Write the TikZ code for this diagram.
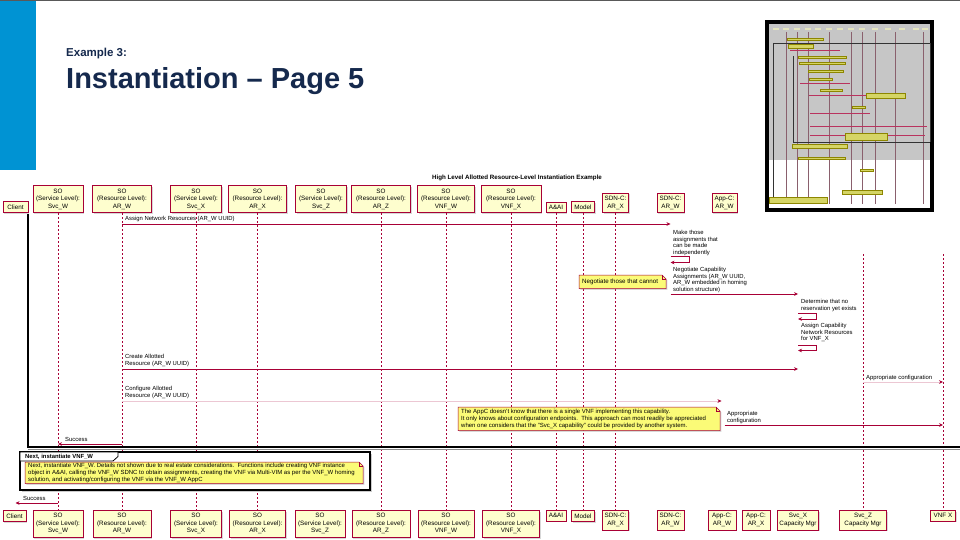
\documentclass[tikz,border=0pt]{standalone}
\usepackage{fontspec}
\setmainfont{Liberation Sans}
\usetikzlibrary{arrows.meta,shadows}
\definecolor{pred}{HTML}{A80036}
\definecolor{pfill}{HTML}{FEFECE}
\definecolor{nfill}{HTML}{FBFB77}
\definecolor{navy}{HTML}{15294D}
\definecolor{barblue}{HTML}{0093D3}
\newcommand{\ptop}[4]{\node[pbox,minimum width=#3pt,anchor=south] (t#1) at (#2,213) {#4};}
\newcommand{\pbot}[4]{\node[pbox,minimum width=#3pt,anchor=north] (b#1) at (#2,510) {#4};}
\newcommand{\pnote}[4]{%
  \path[draw=pred,fill=nfill,line width=0.5pt,nshadow] (#1,#2) -- (#3-4,#2) -- (#3,#2+4) -- (#3,#4) -- (#1,#4) -- cycle;
  \draw[pred,line width=0.5pt] (#3-4,#2) -- (#3-4,#2+4) -- (#3,#2+4);}
\begin{document}
\begin{tikzpicture}[x=1pt,y=-1pt,
  pbox/.style={draw=pred,fill=pfill,line width=0.6pt,align=center,inner xsep=1pt,inner ysep=3.2pt,
    font=\fontsize{6.3}{7.5}\selectfont,
    drop shadow={shadow xshift=1.3pt,shadow yshift=-1.3pt,opacity=0.3}},
  nshadow/.style={drop shadow={shadow xshift=1.3pt,shadow yshift=-1.3pt,opacity=0.3}},
  life/.style={draw=pred,line width=0.5pt,dash pattern=on 2pt off 2pt},
  msg/.style={draw=pred,line width=0.6pt,-{Stealth[length=4pt,width=3.6pt]}},
  faint/.style={draw=pred!22,line width=0.5pt,-{Stealth[length=4pt,width=3.6pt,color=pred]}},
  mtext/.style={inner sep=0pt,align=left,font=\fontsize{5.9}{6.5}\selectfont},
  ntext/.style={inner sep=0pt,align=left,font=\fontsize{6}{7}\selectfont},
]
\useasboundingbox (0,0) rectangle (960,540);
\fill[white] (0,0) rectangle (960,540);
% slide decoration
\draw[gray!70!black,line width=1.2pt] (0,0.6) -- (960,0.6);
\fill[barblue] (0,1.2) rectangle (36,170);
\node[anchor=base west,inner sep=0,font=\fontsize{11.5}{12}\selectfont\bfseries,text=navy] (ex) at (66,57) {Example 3:};
\node[anchor=base west,inner sep=0,font=\fontsize{29}{30}\selectfont\bfseries,text=navy] (ttl) at (66,89) {Instantiation – Page 5};

% thumbnail
\fill[black] (765,20) rectangle (934,212);
\fill[gray!45] (769,24) rectangle (930,160);
\fill[white] (769,160) rectangle (930,208);
\foreach \xx in {776,786,797,808,818,829,840,851,862,875,888,902,916,925}
  \fill[pfill!80!gray] (\xx-3,28) rectangle (\xx+3,30.5);
\foreach \xx in {786,797,808,829,851,862,875,895,923}
  \draw[gray!75!pred,line width=0.25pt] (\xx,32) -- (\xx,204);
\draw[black!80,line width=0.35pt] (773,43) -- (930,43) (773,43) -- (773,200) (793,56) -- (793,142) -- (930,142) (930,43) -- (930,142);
\draw[pred!80,line width=0.35pt] (809,95) -- (867,95) (810,126) -- (927,126) (810,135) -- (925,135) (790,50) -- (840,50) (800,83) -- (850,83) (810,113) -- (870,113);
\foreach \a/\b/\c/\d in {787/38/823/40.5,788/44/813/48,798/56/846/58.5,799/62/845/64.5,808/70/843/72.5,809/78/832/80.5,820/89/842/91.5,866/93/905/98,852/106/865/108.5,845/133/887/140,792/144/847/148,798/157/845/159.5,860/169/873/171.5,842/190/882/194,769/197/827/203}
  \filldraw[fill=nfill!85!black,draw=olive,line width=0.2pt] (\a,\b) rectangle (\c,\d);

% diagram title
\node[font=\fontsize{6.2}{7}\selectfont\bfseries,inner sep=0,anchor=base] (dtitle) at (517,179.5) {High Level Allotted Resource-Level Instantiation Example};

% participants (top)
\ptop{client}{15.5}{25}{Client}
\ptop{svcw}{58}{50}{SO\\(Service Level):\\Svc\_W}
\ptop{arw}{122}{59}{SO\\(Resource Level):\\AR\_W}
\ptop{svcx}{196}{51}{SO\\(Service Level):\\Svc\_X}
\ptop{arx}{257.5}{58}{SO\\(Resource Level):\\AR\_X}
\ptop{svcz}{321}{51}{SO\\(Service Level):\\Svc\_Z}
\ptop{arz}{381}{59}{SO\\(Resource Level):\\AR\_Z}
\ptop{vnfw}{446}{57}{SO\\(Resource Level):\\VNF\_W}
\ptop{vnfx}{511}{60}{SO\\(Resource Level):\\VNF\_X}
\ptop{aai}{556}{20}{A\&AI}
\ptop{model}{583}{23}{Model}
\ptop{sdnx}{615.5}{26}{SDN-C:\\AR\_X}
\ptop{sdnw}{670.5}{27}{SDN-C:\\AR\_W}
\ptop{appw}{724.5}{25}{App-C:\\AR\_W}

% participants (bottom)
\pbot{client}{14.5}{23}{Client}
\pbot{svcw}{58}{50}{SO\\(Service Level):\\Svc\_W}
\pbot{arw}{122}{58}{SO\\(Resource Level):\\AR\_W}
\pbot{svcx}{196}{51}{SO\\(Service Level):\\Svc\_X}
\pbot{arx}{257.5}{56}{SO\\(Resource Level):\\AR\_X}
\pbot{svcz}{320}{50}{SO\\(Service Level):\\Svc\_Z}
\pbot{arz}{381}{58}{SO\\(Resource Level):\\AR\_Z}
\pbot{vnfw}{446}{56}{SO\\(Resource Level):\\VNF\_W}
\pbot{vnfx}{511}{57}{SO\\(Resource Level):\\VNF\_X}
\pbot{aai}{556}{20}{A\&AI}
\pbot{model}{583}{23}{Model}
\pbot{sdnx}{615.5}{26}{SDN-C:\\AR\_X}
\pbot{sdnw}{670.5}{27}{SDN-C:\\AR\_W}
\pbot{appw}{722}{28}{App-C:\\AR\_W}
\pbot{appx}{756}{28}{App-C:\\AR\_X}
\pbot{capx}{798}{41}{Svc\_X\\Capacity Mgr}
\pbot{capz}{863}{47}{Svc\_Z\\Capacity Mgr}
\pbot{vnfxx}{943}{25}{VNF X}

% lifelines
\foreach \p in {svcw,arw,svcx,arx,arz,vnfw,vnfx,aai,model,sdnx}
  \draw[life] (t\p.south) -- (b\p.north);
\draw[life] (bcapz.north |- 0,254) -- (bcapz.north);
\draw[life] (bvnfxx.north |- 0,254) -- (bvnfxx.north);

% enclosing group (continued from previous page)
\draw[black!45,line width=0.8pt] (28,449.2) -- (960,449.2);
\draw[black,line width=1.1pt] (28,214) -- (28,447) -- (960,447);

% messages
\node[mtext,anchor=south west] (m1) at (125,222) {Assign Network Resources (AR\_W UUID)};
\draw[msg] (tarw.south |- 0,224) -- (tsdnw.south |- 0,224);

\node[mtext,anchor=north west] (m2) at (673,230.5) {Make those\\assignments that\\can be made\\independently};
\draw[msg] (tsdnw.south |- 0,256) -- (689,256) -- (689,262.5) -- (tsdnw.south |- 0,262.5);

\node[mtext,anchor=north west] (m3) at (673,267.5) {Negotiate Capability\\Assignments (AR\_W UUID,\\AR\_W embedded in homing\\solution structure)};
\draw[msg] (tsdnw.south |- 0,294) -- (bcapx.north |- 0,294);

\pnote{579}{275}{666}{288.5}
\node[ntext,anchor=west,font=\fontsize{6.2}{7}\selectfont] (n1) at (582,282) {Negotiate those that cannot};

\node[mtext,anchor=north west] (m4) at (801,299.5) {Determine that no\\reservation yet exists};
\draw[msg] (bcapx.north |- 0,313) -- (816,313) -- (816,319) -- (bcapx.north |- 0,319);

\node[mtext,anchor=north west] (m5) at (801,323.5) {Assign Capability\\Network Resources\\for VNF\_X};
\draw[msg] (bcapx.north |- 0,345) -- (816,345) -- (816,350.5) -- (bcapx.north |- 0,350.5);

\node[mtext,anchor=north west] (m6) at (125,354.5) {Create Allotted\\Resource (AR\_W UUID)};
\draw[msg] (tarw.south |- 0,369) -- (bcapx.north |- 0,369);

\node[mtext,anchor=south west] (m7) at (866,380.5) {Appropriate configuration};
\draw[faint] (bcapz.north |- 0,382) -- (bvnfxx.north |- 0,382);

\node[mtext,anchor=north west] (m8) at (125,386.5) {Configure Allotted\\Resource (AR\_W UUID)};
\draw[faint,shorten >=3pt] (tarw.south |- 0,401) -- (tappw.south |- 0,401);

\pnote{458}{407}{720}{430.5}
\node[ntext,anchor=north west] (n2) at (461,408.5) {The AppC doesn't know that there is a single VNF implementing this capability.\\It only knows about configuration endpoints.\ \ This approach can most readily be appreciated\\when one considers that the "Svc\_X capability" could be provided by another system.};

\node[mtext,anchor=north west] (m9) at (727,411.5) {Appropriate\\configuration};
\draw[msg] (tappw.south |- 0,425) -- (bvnfxx.north |- 0,425);

\node[mtext,anchor=south west] (m10) at (65,442) {Success};
\draw[msg] (tarw.south |- 0,444) -- (tsvcw.south |- 0,444);

% reference group
\draw[black,line width=1.1pt,fill=white,drop shadow={shadow xshift=1.5pt,shadow yshift=-1.5pt,opacity=0.4}] (20,452) rectangle (370,490);
\draw[black,line width=0.8pt,fill=white] (20,452) -- (118,452) -- (118,456.5) -- (113,461) -- (20,461) -- cycle;
\node[inner sep=0,anchor=west,font=\fontsize{5.9}{7}\selectfont\bfseries] (g1) at (25,456.6) {Next, instantiate VNF\_W};
\pnote{25}{462}{363}{483.5}
\node[ntext,anchor=north west,font=\fontsize{6}{7}\selectfont] (n3) at (28,463.2) {Next, instantiate VNF\_W. Details not shown due to real estate considerations.\ \ Functions include creating VNF instance\\object in A\&AI, calling the VNF\_W SDNC to obtain assignments, creating the VNF via Multi-VIM as per the VNF\_W homing\\solution, and activating/configuring the VNF via the VNF\_W AppC};

\node[mtext,anchor=south west] (m11) at (23,501) {Success};
\draw[msg] (tsvcw.south |- 0,503) -- (tclient.south |- 0,503);
\end{tikzpicture}
\end{document}
